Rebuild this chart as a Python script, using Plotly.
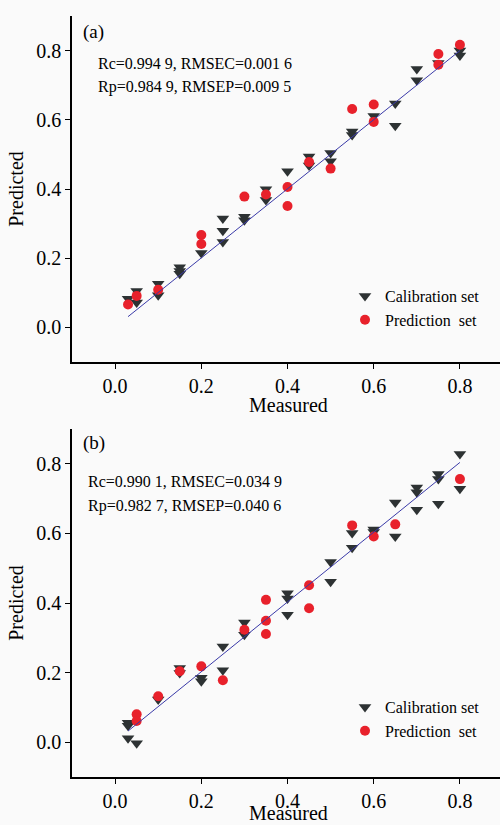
import plotly.graph_objects as go

# ---------------- Panel (a) data ----------------
a_cal_x = [0.03, 0.05, 0.05, 0.10, 0.10, 0.15, 0.15, 0.15, 0.20, 0.25, 0.25, 0.25, 0.30, 0.30,
           0.35, 0.35, 0.40, 0.45, 0.45, 0.50, 0.50, 0.55, 0.55, 0.60, 0.65, 0.65, 0.70, 0.70,
           0.75, 0.80, 0.80]
a_cal_y = [0.083, 0.105, 0.072, 0.126, 0.093, 0.174, 0.163, 0.155, 0.215, 0.315, 0.279, 0.247,
           0.320, 0.310, 0.399, 0.368, 0.451, 0.494, 0.468, 0.504, 0.480, 0.566, 0.556, 0.611,
           0.647, 0.583, 0.747, 0.714, 0.764, 0.800, 0.786]
a_pre_x = [0.03, 0.05, 0.10, 0.20, 0.20, 0.30, 0.35, 0.40, 0.40, 0.45, 0.50, 0.55, 0.60, 0.60,
           0.75, 0.75, 0.80]
a_pre_y = [0.066, 0.091, 0.109, 0.267, 0.241, 0.378, 0.384, 0.406, 0.351, 0.478, 0.459, 0.631,
           0.644, 0.594, 0.790, 0.759, 0.817]
a_fit_x = [0.03, 0.80]
a_fit_y = [0.031, 0.800]
a_label = "(a)"
a_stats = ["Rc=0.994 9, RMSEC=0.001 6", "Rp=0.984 9, RMSEP=0.009 5"]

# ---------------- Panel (b) data ----------------
b_cal_x = [0.03, 0.03, 0.03, 0.05, 0.10, 0.15, 0.15, 0.20, 0.20, 0.25, 0.25, 0.30, 0.30, 0.40,
           0.40, 0.40, 0.50, 0.50, 0.55, 0.55, 0.60, 0.60, 0.65, 0.65, 0.70, 0.70, 0.70, 0.75,
           0.75, 0.75, 0.80, 0.80]
b_cal_y = [0.056, 0.047, 0.011, -0.003, 0.123, 0.213, 0.199, 0.185, 0.175, 0.275, 0.207, 0.344,
           0.309, 0.428, 0.413, 0.366, 0.518, 0.461, 0.601, 0.559, 0.611, 0.604, 0.689, 0.591,
           0.732, 0.718, 0.668, 0.771, 0.756, 0.685, 0.828, 0.728]
b_pre_x = [0.05, 0.05, 0.10, 0.15, 0.20, 0.25, 0.30, 0.35, 0.35, 0.35, 0.45, 0.45, 0.55, 0.60,
           0.65, 0.80]
b_pre_y = [0.080, 0.061, 0.132, 0.204, 0.218, 0.178, 0.323, 0.409, 0.349, 0.311, 0.451, 0.385,
           0.623, 0.591, 0.626, 0.756]
b_fit_x = [0.03, 0.80]
b_fit_y = [0.032, 0.804]
b_label = "(b)"
b_stats = ["Rc=0.990 1, RMSEC=0.034 9", "Rp=0.982 7, RMSEP=0.040 6"]

tick_vals = [0.0, 0.2, 0.4, 0.6, 0.8]
tick_text = ["0.0", "0.2", "0.4", "0.6", "0.8"]
x_title = "Measured"
y_title = "Predicted"
legend_names = ["Calibration set", "Prediction  set"]

FONT = "Liberation Serif, Times New Roman, serif"
CAL_COLOR = "#2d3233"
PRE_COLOR = "#e8212b"
LINE_COLOR = "#3a3aa8"
BG = "#fafafa"

fig = go.Figure()

panels = [
    (a_cal_x, a_cal_y, a_pre_x, a_pre_y, a_fit_x, a_fit_y, "x", "y", "legend"),
    (b_cal_x, b_cal_y, b_pre_x, b_pre_y, b_fit_x, b_fit_y, "x2", "y2", "legend2"),
]
for cx, cy, px, py, fx, fy, xa, ya, lg in panels:
    fig.add_trace(go.Scatter(x=cx, y=cy, mode="markers", name=legend_names[0],
                             xaxis=xa, yaxis=ya, legend=lg,
                             marker=dict(symbol="triangle-down", size=11, color=CAL_COLOR)))
    fig.add_trace(go.Scatter(x=px, y=py, mode="markers", name=legend_names[1],
                             xaxis=xa, yaxis=ya, legend=lg,
                             marker=dict(symbol="circle", size=10, color=PRE_COLOR)))
    fig.add_trace(go.Scatter(x=fx, y=fy, mode="lines", showlegend=False,
                             xaxis=xa, yaxis=ya,
                             line=dict(color=LINE_COLOR, width=1)))

axis_common = dict(showline=True, linecolor="black", linewidth=1.5, ticks="outside",
                   ticklen=5, tickwidth=1, tickcolor="black", showgrid=False,
                   zeroline=False, tickvals=tick_vals, ticktext=tick_text,
                   tickfont=dict(family=FONT, size=20, color="black"))

x_dom = [72 / 500, 1.0]
a_dom = [1 - 362 / 825, 1 - 16 / 825]
b_dom = [1 - 777 / 825, 1 - 429 / 825]

fig.update_layout(
    width=500, height=825,
    margin=dict(l=0, r=0, t=0, b=0),
    paper_bgcolor=BG, plot_bgcolor=BG,
    font=dict(family=FONT, color="black"),
    xaxis=dict(domain=x_dom, range=[-0.1, 0.893], anchor="y", **axis_common),
    yaxis=dict(domain=a_dom, range=[-0.1, 0.9], anchor="x",
               title=dict(text=y_title, font=dict(family=FONT, size=20), standoff=7),
               **axis_common),
    xaxis2=dict(domain=x_dom, range=[-0.1, 0.893], anchor="y2", **axis_common),
    yaxis2=dict(domain=b_dom, range=[-0.1, 0.9], anchor="x2",
                title=dict(text=y_title, font=dict(family=FONT, size=20), standoff=7),
                **axis_common),
    legend=dict(x=345 / 500, y=1 - 279 / 825, xanchor="left", yanchor="top",
                bgcolor="rgba(0,0,0,0)", font=dict(family=FONT, size=16, color="black"),
                tracegroupgap=0),
    legend2=dict(x=345 / 500, y=1 - 690 / 825, xanchor="left", yanchor="top",
                 bgcolor="rgba(0,0,0,0)", font=dict(family=FONT, size=16, color="black"),
                 tracegroupgap=0),
    showlegend=True,
)

ann = []
def add_text(txt, xpx, ypx, size, xanchor="left"):
    ann.append(dict(text=txt, x=xpx / 500, y=1 - ypx / 825, xref="paper", yref="paper",
                    xanchor=xanchor, yanchor="middle", showarrow=False,
                    font=dict(family=FONT, size=size, color="black")))

add_text(a_label, 81, 32, 19)
add_text(a_stats[0], 96, 63, 16)
add_text(a_stats[1], 96, 87, 16)
add_text(b_label, 81, 443, 19)
add_text(b_stats[0], 86, 481, 16)
add_text(b_stats[1], 86, 506, 16)
# x-axis titles
add_text(x_title, 288, 405, 20, xanchor="center")
add_text(x_title, 288, 813, 20, xanchor="center")
fig.update_layout(annotations=ann)

fig.write_html("out.html", config={"displayModeBar": False},
               post_script="document.body.style.margin='0';document.body.style.padding='0';")
